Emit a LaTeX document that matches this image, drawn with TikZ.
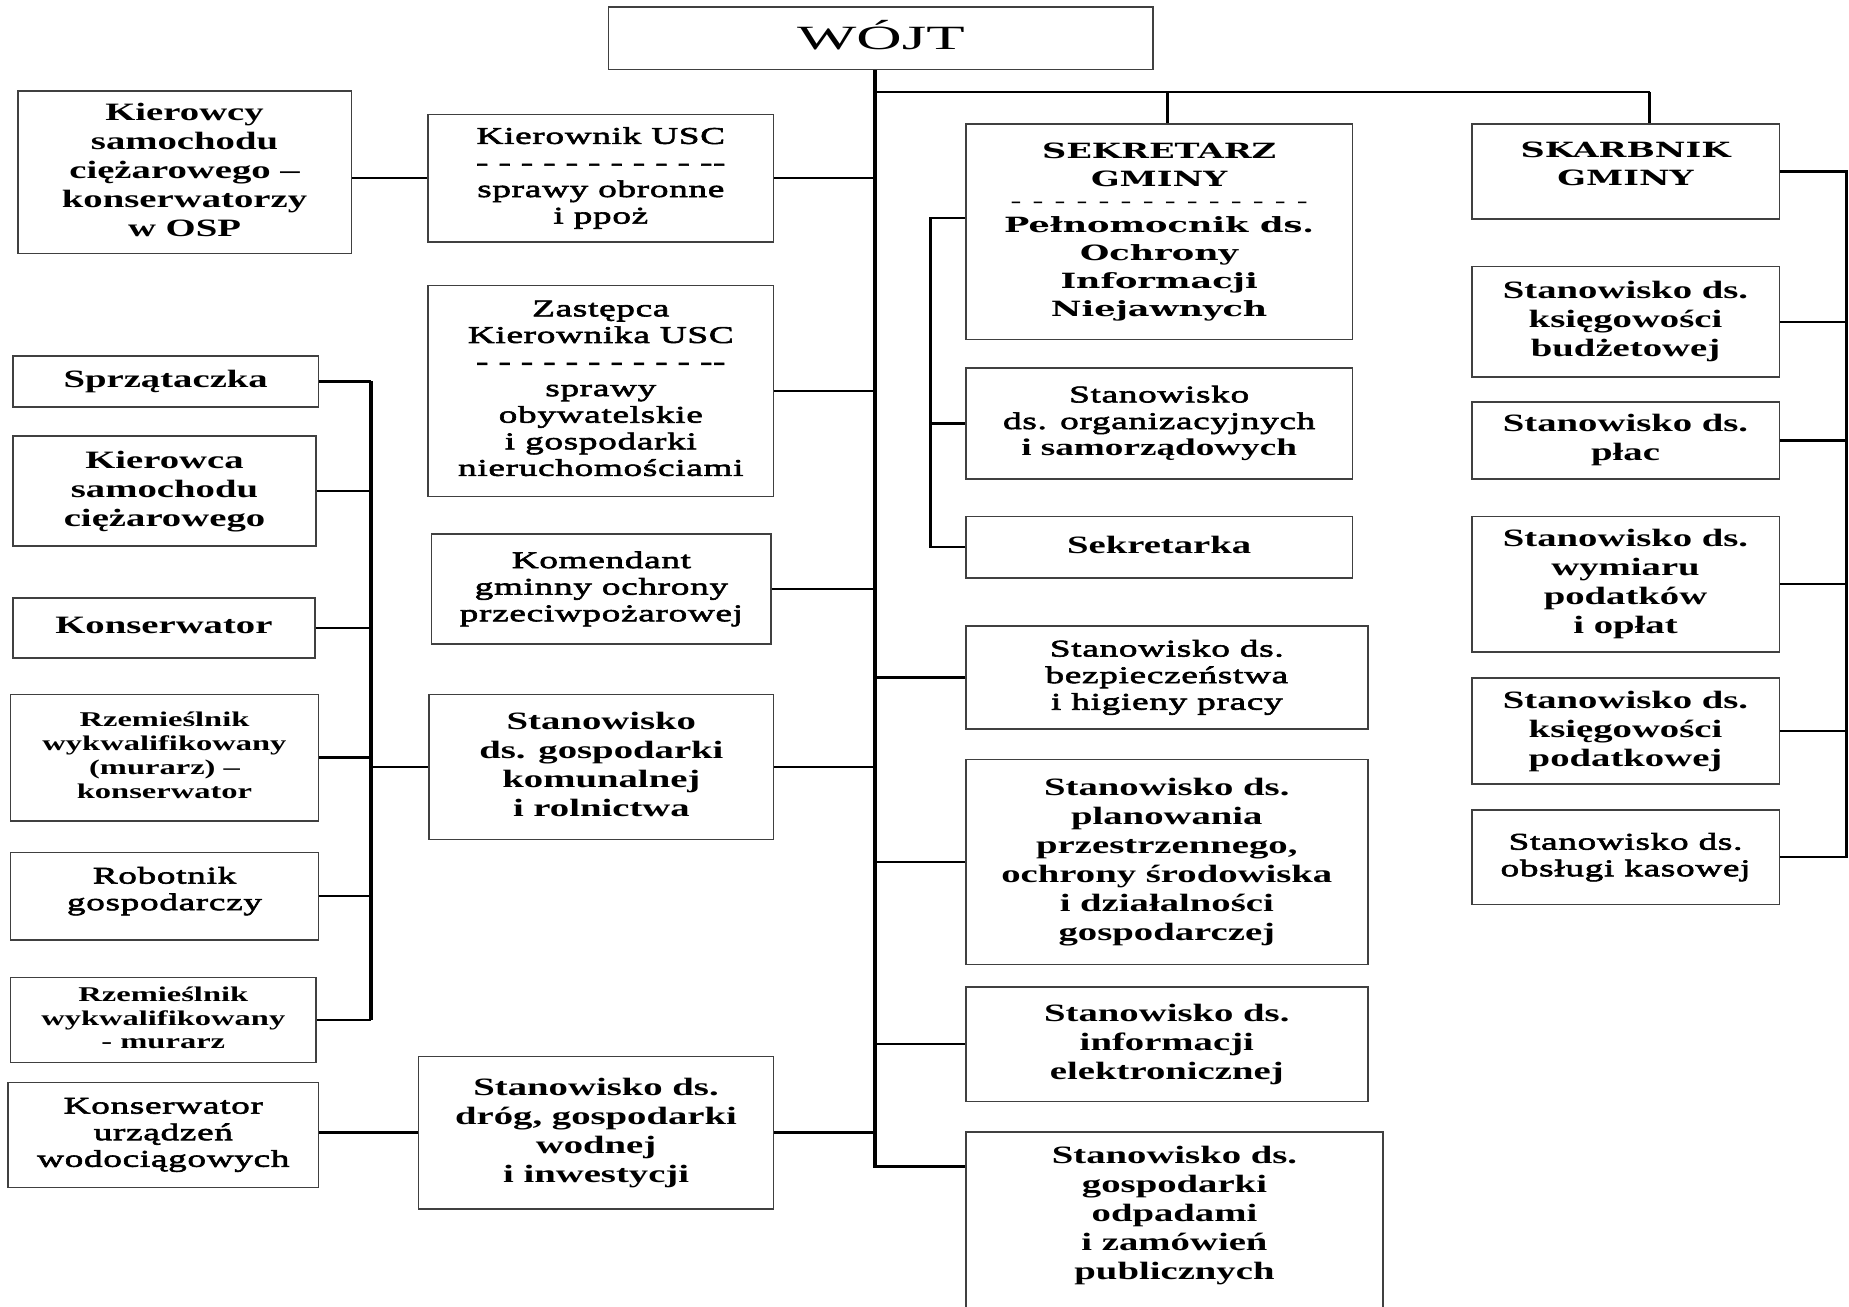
\documentclass[tikz,border=0pt]{standalone}
\usepackage{fontspec}
\setmainfont{Liberation Serif}[FakeStretch=1.55]
\newfontfamily\wojtfont{Liberation Serif}[FakeStretch=1.85]
\newfontfamily\slabfont{DejaVu Serif}[FakeStretch=1.6]
\newfontfamily\medfont{Liberation Serif}[FakeStretch=1.55, FakeBold=2.5, LetterSpace=3]
\usetikzlibrary{fit}

\tikzset{
  ramka/.style={draw=black!75, line width=0.85pt, inner sep=0pt},
  tekst/.style={align=center, inner sep=0pt,
    execute at begin node={\rule{0pt}{0.7em}},
    execute at end node={\rule[-0.22em]{0pt}{0.22em}}},
  gruby/.style={ramka, label={[tekst, font=\fontsize{12.5}{14.5}\selectfont\bfseries]center:#1}},
  grubyW/.style={ramka, label={[tekst, yshift=3pt, font=\fontsize{12.5}{14.5}\selectfont\bfseries]center:#1}},
  drobny/.style={ramka, label={[tekst, font=\fontsize{10.5}{12}\selectfont\bfseries]center:#1}},
  sredni/.style={ramka, label={[tekst, font=\medfont\fontsize{12}{13.3}\selectfont]center:#1}},
  sredniW/.style={ramka, label={[tekst, yshift=2.5pt, font=\medfont\fontsize{12}{13.3}\selectfont]center:#1}},
  naglowek/.style={ramka, label={[tekst, font=\slabfont\bfseries\fontsize{10.5}{14}\selectfont]center:#1}},
  naglowekW/.style={ramka, label={[tekst, yshift=3pt, font=\slabfont\bfseries\fontsize{10.5}{14}\selectfont]center:#1}},
  wojtek/.style={ramka, label={[tekst, font=\wojtfont\fontsize{17}{20}\selectfont]center:#1}},
  linia/.style={line width=1.2pt},
  pien/.style={line width=1.7pt},
  szyna/.style={line width=2.3pt}
}

\begin{document}
\begin{tikzpicture}[x=0.59pt, y=-0.59pt]
  \useasboundingbox (0,0) rectangle (1568,1108);
  \clip (0,0) rectangle (1568,1108);

  % Punkty pomocnicze linii
  \coordinate (P)  at (742,989);   % dol pnia glownego
  \coordinate (R)  at (1399,78);   % szyna gorna
  \coordinate (RS) at (990,78);    % odgalezienie do sekretarza
  \coordinate (L)  at (314.5,0);   % szyna lewa
  \coordinate (S)  at (789,185);   % szyna sekretarza
  \coordinate (Q)  at (1566,0);    % szyna skarbnika

  % Wojt
  \node[wojtek={WÓJT}, fit={(516,6) (978,59)}] (wojt) {};

  % Kolumna lewa
  \node[gruby={Kierowcy\\samochodu\\ciężarowego –\\konserwatorzy\\w OSP}, fit={(15,77) (298,215)}] (kierowcy) {};
  \node[gruby={Sprzątaczka}, fit={(11,302) (270,345)}] (sprzataczka) {};
  \node[gruby={Kierowca\\samochodu\\ciężarowego}, fit={(11,370) (268,463)}] (kierowca) {};
  \node[gruby={Konserwator}, fit={(11,507) (267,558)}] (konserwator) {};
  \node[drobny={Rzemieślnik\\wykwalifikowany\\(murarz) –\\konserwator}, fit={(9,589) (270,696)}] (rzemA) {};
  \node[sredniW={Robotnik\\gospodarczy}, fit={(9,723) (270,797)}] (robotnik) {};
  \node[drobny={Rzemieślnik\\wykwalifikowany\\- murarz}, fit={(9,829) (268,901)}] (rzemB) {};
  \node[sredni={Konserwator\\urządzeń\\wodociągowych}, fit={(7,918) (270,1007)}] (wodociagi) {};

  % Kolumna srodkowa
  \node[sredni={Kierownik USC\\- - - - - - - - - - --\\sprawy obronne\\i ppoż}, fit={(363,97) (656,205)}] (kierownik) {};
  \node[sredni={Zastępca\\Kierownika USC\\- - - - - - - - - - --\\sprawy\\obywatelskie\\i gospodarki\\nieruchomościami}, fit={(363,242) (656,421)}] (zastepca) {};
  \node[sredni={Komendant\\gminny ochrony\\przeciwpożarowej}, fit={(366,453) (654,546)}] (komendant) {};
  \node[gruby={Stanowisko\\ds. gospodarki\\komunalnej\\i rolnictwa}, fit={(364,589) (656,712)}] (komunalna) {};
  \node[gruby={Stanowisko ds.\\dróg, gospodarki\\wodnej\\i inwestycji}, fit={(355,896) (656,1025)}] (drogi) {};

  % Sekretarz i stanowiska przy pniu
  \node[naglowek={SEKRETARZ\\GMINY\\[-3pt]{\mdseries - - - - - - - - - - - - - -}\\[-2pt]Pełnomocnik ds.\\Ochrony\\Informacji\\Niejawnych}, fit={(819,105) (1147,288)}] (sekretarz) {};
  \node[sredni={Stanowisko\\ds. organizacyjnych\\{\rmfamily\bfseries i samorządowych}}, fit={(819,312) (1147,406)}] (organizacja) {};
  \node[gruby={Sekretarka}, fit={(819,438) (1147,490)}] (sekretarka) {};
  \node[sredni={Stanowisko ds.\\bezpieczeństwa\\i higieny pracy}, fit={(819,531) (1160,618)}] (bhp) {};
  \node[gruby={Stanowisko ds.\\planowania\\przestrzennego,\\ochrony środowiska\\i działalności\\gospodarczej}, fit={(819,644) (1160,818)}] (planowanie) {};
  \node[gruby={Stanowisko ds.\\informacji\\elektronicznej}, fit={(819,837) (1160,934)}] (informacja) {};
  \node[grubyW={Stanowisko ds.\\gospodarki\\odpadami\\i zamówień\\publicznych}, fit={(819,960) (1173,1112)}] (odpady) {};

  % Skarbnik
  \node[naglowekW={SKARBNIK\\GMINY}, fit={(1248,105) (1509,186)}] (skarbnik) {};
  \node[gruby={Stanowisko ds.\\księgowości\\budżetowej}, fit={(1248,226) (1509,320)}] (budzet) {};
  \node[gruby={Stanowisko ds.\\płac}, fit={(1248,341) (1509,406)}] (place) {};
  \node[gruby={Stanowisko ds.\\wymiaru\\podatków\\i opłat}, fit={(1248,438) (1509,553)}] (podatki) {};
  \node[gruby={Stanowisko ds.\\księgowości\\podatkowej}, fit={(1248,575) (1509,665)}] (ksiegowosc) {};
  \node[sredni={Stanowisko ds.\\obsługi kasowej}, fit={(1248,687) (1509,767)}] (kasa) {};

  % Pien glowny i szyna gorna
  \draw[pien] (wojt.south -| P) -- (P) -- (odpady.west |- P);
  \draw[linia] (R -| P) -- (R);
  \draw[linia] (RS) -- (RS |- sekretarz.north);
  \draw[pien] (R) -- (R |- skarbnik.north);

  % Odgalezienia od pnia
  \draw[linia] (kierownik.east) -- (kierownik.east -| P)
               (zastepca.east) -- (zastepca.east -| P)
               (komendant.east) -- (komendant.east -| P)
               (komunalna.east) -- (komunalna.east -| P)
               (drogi.east) -- (drogi.east -| P);
  \draw[linia] (bhp.west -| P) -- (bhp.west)
               (planowanie.west -| P) -- (planowanie.west)
               (informacja.west -| P) -- (informacja.west);

  % Polaczenia kolumny lewej
  \draw[linia] (kierownik.west) -- (kierownik.west -| kierowcy.east);
  \draw[linia] (drogi.west) -- (drogi.west -| wodociagi.east);
  \draw[szyna] (sprzataczka.east -| L) -- (rzemB.east -| L);
  \draw[linia] (sprzataczka.east) -- (sprzataczka.east -| L)
               (kierowca.east) -- (kierowca.east -| L)
               (konserwator.east) -- (konserwator.east -| L)
               (rzemA.east) -- (rzemA.east -| L)
               (robotnik.east) -- (robotnik.east -| L)
               (rzemB.east) -- (rzemB.east -| L)
               (L |- komunalna.west) -- (komunalna.west);

  % Szyna sekretarza
  \draw[linia] (S -| sekretarz.west) -- (S) -- (S |- sekretarka.west) -- (sekretarka.west);
  \draw[linia] (S |- organizacja.west) -- (organizacja.west);

  % Szyna skarbnika
  \draw[linia] (skarbnik.east) -- (skarbnik.east -| Q) -- (kasa.east -| Q) -- (kasa.east);
  \draw[linia] (budzet.east) -- (budzet.east -| Q)
               (place.east) -- (place.east -| Q)
               (podatki.east) -- (podatki.east -| Q)
               (ksiegowosc.east) -- (ksiegowosc.east -| Q);
\end{tikzpicture}
\end{document}
